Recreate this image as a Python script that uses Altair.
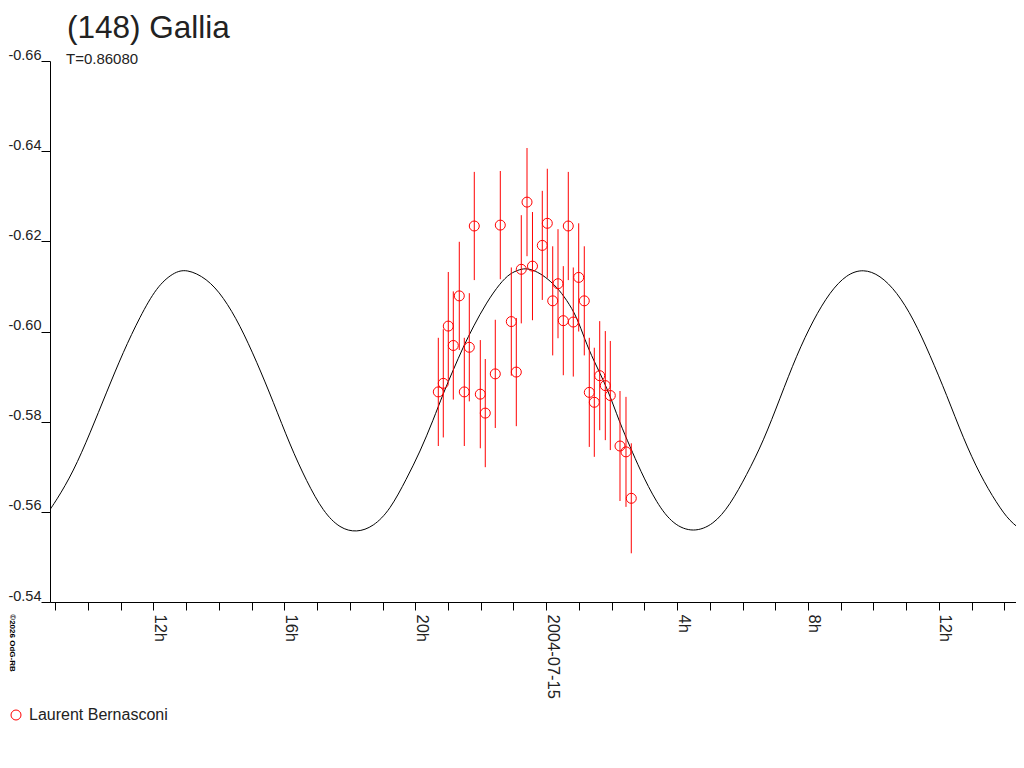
import altair as alt
import pandas as pd

TITLE = "(148) Gallia"
SUBTITLE = "T=0.86080"
OBSERVER = "Laurent Bernasconi"
COPYRIGHT = "©2026 OdG-RB"
DATE_LABEL = "2004-07-15"

# observations: hours since 2004-07-14 00:00, relative magnitude, error
obs_hours = [20.705, 20.857, 21.010, 21.163, 21.346, 21.499, 21.652, 21.804, 21.988, 22.140,
             22.446, 22.599, 22.935, 23.088, 23.240, 23.415, 23.582, 23.882, 24.035, 24.200,
             24.362, 24.524, 24.676, 24.829, 24.994, 25.165, 25.318, 25.471, 25.636, 25.807,
             25.960, 26.256, 26.439, 26.601]
obs_mag = [-0.5866, -0.5885, -0.6012, -0.5969, -0.6079, -0.5866, -0.5965, -0.6234, -0.5861, -0.5819,
           -0.5906, -0.6236, -0.6022, -0.5910, -0.6138, -0.6287, -0.6145, -0.6191, -0.6240, -0.6068,
           -0.6106, -0.6024, -0.6234, -0.6021, -0.6120, -0.6068, -0.5865, -0.5843, -0.5902, -0.5880,
           -0.5858, -0.5746, -0.5733, -0.5630]
obs_err = [0.0120, 0.0120, 0.0120, 0.0120, 0.0120, 0.0120, 0.0120, 0.0120, 0.0120, 0.0120,
           0.0120, 0.0120, 0.0120, 0.0120, 0.0120, 0.0120, 0.0120, 0.0121, 0.0121, 0.0121,
           0.0121, 0.0121, 0.0120, 0.0121, 0.0120, 0.0121, 0.0121, 0.0121, 0.0121, 0.0121,
           0.0121, 0.0122, 0.0122, 0.0122]

# fitted light curve
model_hours = [8.688, 9.045, 9.553, 10.063, 10.573, 11.080, 11.591, 12.101, 12.608, 13.017,
               13.628, 14.136, 14.646, 15.156, 15.663, 16.174, 16.684, 17.191, 17.701, 18.211,
               18.719, 19.229, 19.739, 20.145, 20.552, 20.857, 21.163, 21.468, 21.774, 22.183,
               22.590, 22.895, 23.201, 23.405, 23.659, 23.965, 24.322, 24.628, 24.933, 25.187,
               25.440, 25.850, 26.256, 26.562, 26.867, 27.377, 27.885, 28.496, 29.107, 29.617,
               30.127, 30.634, 31.145, 31.655, 32.162, 32.672, 33.182, 33.690, 34.200, 34.710,
               35.217, 35.727, 36.238, 36.745, 37.255, 37.765, 38.172, 38.578]
model_mag = [-0.5589, -0.5626, -0.5689, -0.5774, -0.5866, -0.5955, -0.6033, -0.6099, -0.6131, -0.6139,
             -0.6118, -0.6077, -0.6014, -0.5933, -0.5844, -0.5748, -0.5667, -0.5600, -0.5563, -0.5554,
             -0.5567, -0.5604, -0.5674, -0.5733, -0.5804, -0.5863, -0.5915, -0.5966, -0.6011, -0.6065,
             -0.6107, -0.6129, -0.6138, -0.6140, -0.6135, -0.6122, -0.6099, -0.6070, -0.6033, -0.5981,
             -0.5937, -0.5878, -0.5796, -0.5745, -0.5693, -0.5619, -0.5571, -0.5554, -0.5571, -0.5615,
             -0.5682, -0.5756, -0.5852, -0.5948, -0.6026, -0.6088, -0.6127, -0.6139, -0.6125, -0.6088,
             -0.6029, -0.5948, -0.5859, -0.5763, -0.5682, -0.5619, -0.5578, -0.5557]

x_domain = [8.841, 38.355]
x_ticks = list(range(9, 39))
y_domain = [-0.66, -0.54]
y_ticks = [-0.66, -0.64, -0.62, -0.60, -0.58, -0.56, -0.54]

FONT = "Liberation Sans"
TXT = "#222222"
RED = "#ff0000"

obs = pd.DataFrame({"h": obs_hours, "mag": obs_mag, "err": obs_err, "observer": OBSERVER})
model = pd.DataFrame({"h": model_hours, "mag": model_mag})

xscale = alt.Scale(domain=x_domain, nice=False, zero=False)
yscale = alt.Scale(domain=y_domain, reverse=True, nice=False, zero=False)

xaxis = alt.Axis(
    values=x_ticks,
    labelExpr=f"datum.value % 4 == 0 ? (datum.value == 24 ? '{DATE_LABEL}' : (datum.value % 24) + 'h') : ''",
    labelAngle=90, labelAlign="left", labelBaseline="alphabetic", labelPadding=4,
    labelOffset=1, tickSize=8, labelOverlap=False, labelFlush=False, grid=False, title=None,
    domainColor="black", tickColor="black", labelColor=TXT, labelFont=FONT, labelFontSize=16.5,
)
yaxis = alt.Axis(
    values=y_ticks,
    labelExpr="'-' + format(-datum.value, '.2f')",
    labelAlign="right", labelBaseline="alphabetic", labelPadding=0, labelOffset=-2,
    tickSize=9, labelOverlap=False, labelFlush=False, grid=False, title=None,
    domainColor="black", tickColor="black", labelColor=TXT, labelFont=FONT, labelFontSize=14.5,
)

curve = alt.Chart(model).mark_line(
    color="black", strokeWidth=1, interpolate="basis", clip=True
).encode(
    x=alt.X("h:Q", scale=xscale, axis=xaxis),
    y=alt.Y("mag:Q", scale=yscale, axis=yaxis),
)

bars = alt.Chart(obs).transform_calculate(
    lo="datum.mag - datum.err", hi="datum.mag + datum.err"
).mark_rule(color=RED, strokeWidth=1).encode(
    x=alt.X("h:Q", scale=xscale, axis=xaxis),
    y=alt.Y("lo:Q", scale=yscale, axis=yaxis),
    y2="hi:Q",
)

points = alt.Chart(obs).mark_point(
    shape="circle", size=100, filled=False, strokeWidth=1, opacity=1
).encode(
    x=alt.X("h:Q", scale=xscale, axis=xaxis),
    y=alt.Y("mag:Q", scale=yscale, axis=yaxis),
    color=alt.Color(
        "observer:N",
        scale=alt.Scale(domain=[OBSERVER], range=[RED]),
        legend=alt.Legend(
            title=None, orient="none", legendX=-42, legendY=646, padding=0,
            symbolType="circle", symbolSize=100, symbolStrokeWidth=1,
            labelFont=FONT, labelFontSize=16, labelColor=TXT, labelOffset=5,
        ),
    ),
)

title_df = pd.DataFrame({"t": [TITLE]})
sub_df = pd.DataFrame({"t": [SUBTITLE]})
copy_df = pd.DataFrame({"t": [COPYRIGHT]})

title_txt = alt.Chart(title_df).mark_text(
    align="left", baseline="alphabetic", font=FONT, fontSize=31.5, color=TXT
).encode(x=alt.value(17), y=alt.value(-23), text="t:N")

sub_txt = alt.Chart(sub_df).mark_text(
    align="left", baseline="alphabetic", font=FONT, fontSize=15, color=TXT
).encode(x=alt.value(16), y=alt.value(3), text="t:N")

copy_txt = alt.Chart(copy_df).mark_text(
    align="center", baseline="middle", font=FONT, fontSize=8, fontWeight="bold",
    color="black", angle=90
).encode(x=alt.value(-38), y=alt.value(582), text="t:N")

chart = alt.layer(curve, bars, points, title_txt, sub_txt, copy_txt).properties(
    width=966, height=541,
    autosize=alt.AutoSizeParams(type="none"),
    padding={"left": 42, "top": 53, "right": 0, "bottom": 150},
    background="white",
).configure_view(stroke=None)

chart.save("out.html", embed_options={"renderer": "svg", "actions": False})
